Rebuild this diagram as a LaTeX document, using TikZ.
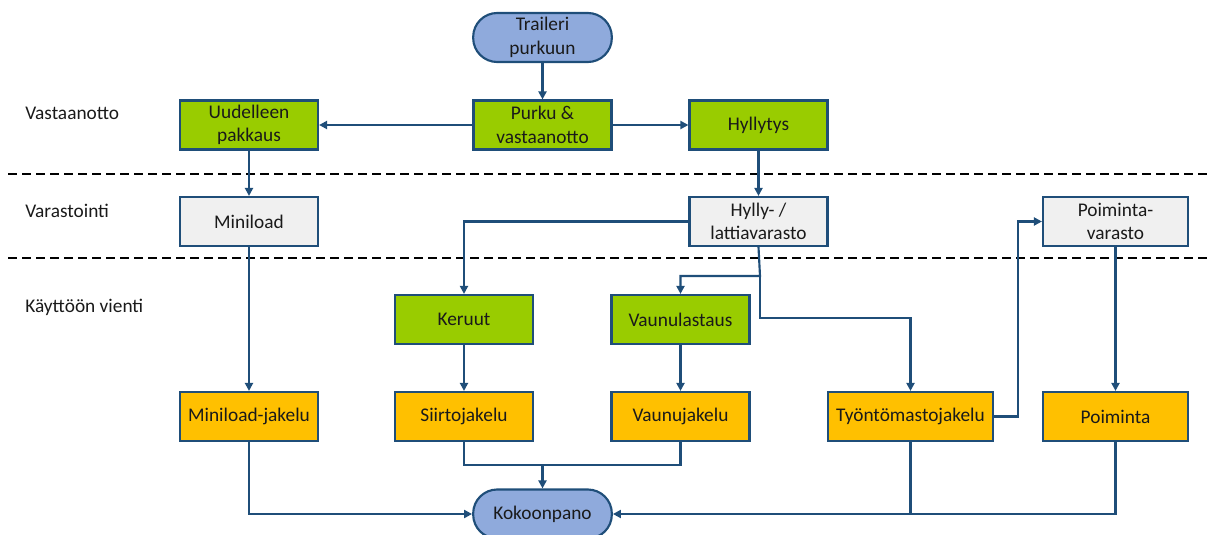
\documentclass[tikz,border=0pt]{standalone}
\usepackage{fontspec}
\setmainfont{Carlito}
\usetikzlibrary{arrows.meta}
\definecolor{bordc}{HTML}{1F4E79}
\definecolor{grn}{HTML}{99CC00}
\definecolor{org}{HTML}{FFC000}
\definecolor{gry}{HTML}{F0F0F0}
\definecolor{blu}{HTML}{8FAADC}
\definecolor{txt}{HTML}{1A1A1A}
\tikzset{
  box/.style={draw=bordc, line width=1.6pt, minimum width=103.5pt, minimum height=36.75pt,
    inner sep=1pt, align=center, text=txt, font=\fontsize{14.5}{17.5}\selectfont},
  gbox/.style={box, fill=grn},
  obox/.style={box, fill=org},
  wbox/.style={box, fill=gry},
  sbox/.style={box, fill=blu, rounded corners=18pt, minimum width=104pt},
  arr/.style={draw=bordc, line width=1.6pt, -{Triangle[length=6pt,width=6pt]}},
  con/.style={draw=bordc, line width=1.6pt},
  sep/.style={draw=black, line width=1.6pt, dash pattern=on 6.75pt off 3.75pt},
  lab/.style={anchor=west, text=txt, font=\fontsize{14.5}{17.5}\selectfont, inner sep=0pt}
}
\begin{document}
\begin{tikzpicture}[x=0.75pt,y=-0.75pt]
\useasboundingbox (0,0) rectangle (1214,535);
% separators
\draw[sep] (8,174) -- (1210,174);
\draw[sep] (8,258) -- (1210,258);
% phase labels
\node[lab] (l1) at (25,113) {Vastaanotto};
\node[lab] (l2) at (25,211) {Varastointi};
\node[lab] (l3) at (25,307) {Käyttöön vienti};
% nodes
\node[sbox] (trail) at (542.5,37.5) {Traileri\\purkuun};
\node[gbox] (purku) at (542.5,125) {Purku \&\\vastaanotto};
\node[gbox] (uud) at (249,125) {Uudelleen\\pakkaus};
\node[gbox] (hyll) at (758.5,125) {Hyllytys};
\node[wbox] (mini) at (249,221.5) {Miniload};
\node[wbox] (hylly) at (758.5,221.5) {Hylly- /\\lattiavarasto};
\node[wbox, minimum width=108.75pt] (poimv) at (1115.5,221.5) {Poiminta-\\varasto};
\node[gbox] (keruut) at (464,319.5) {Keruut};
\node[gbox] (vaunul) at (680.5,319.5) {Vaunulastaus};
\node[obox] (minij) at (249,416.5) {Miniload-jakelu};
\node[obox] (siirto) at (464,416.5) {Siirtojakelu};
\node[obox] (vaunuj) at (680.5,416.5) {Vaunujakelu};
\node[obox, minimum width=123.75pt] (tyonto) at (910.5,416.5) {Työntömastojakelu};
\node[obox, minimum width=108.75pt] (poim) at (1115.5,416.5) {Poiminta};
\node[sbox] (koko) at (542.5,514) {Kokoonpano};
% junctions
\coordinate (j1) at (760,276);
\coordinate (j2) at (760,318);
\coordinate (j3) at (542.5,465);
\coordinate (j4) at (1018,416.5);
% connectors
\draw[arr] (trail) -- (purku);
\draw[arr] (purku) -- (uud);
\draw[arr] (purku) -- (hyll);
\draw[arr] (uud) -- (mini);
\draw[arr] (hyll) -- (hylly);
\draw[arr] (hylly.west) -| (keruut.north);
\draw[arr] (hylly.south) -- (j1) -| (vaunul.north);
\draw[arr] (j1) -- (j2) -| (tyonto.north);
\draw[arr] (mini) -- (minij);
\draw[arr] (keruut) -- (siirto);
\draw[arr] (vaunul) -- (vaunuj);
\draw[arr] (poimv) -- (poim);
\draw[arr] (tyonto.east) -- (j4) |- (poimv.west);
\draw[arr] (minij.south) |- (koko.west);
\draw[con] (siirto.south) |- (j3) -| (vaunuj.south);
\draw[arr] (j3) -- (koko.north);
\draw[arr] (poim.south) |- (koko.east);
\draw[con] (tyonto.south) -- (tyonto.south |- koko.east);
\end{tikzpicture}
\end{document}
